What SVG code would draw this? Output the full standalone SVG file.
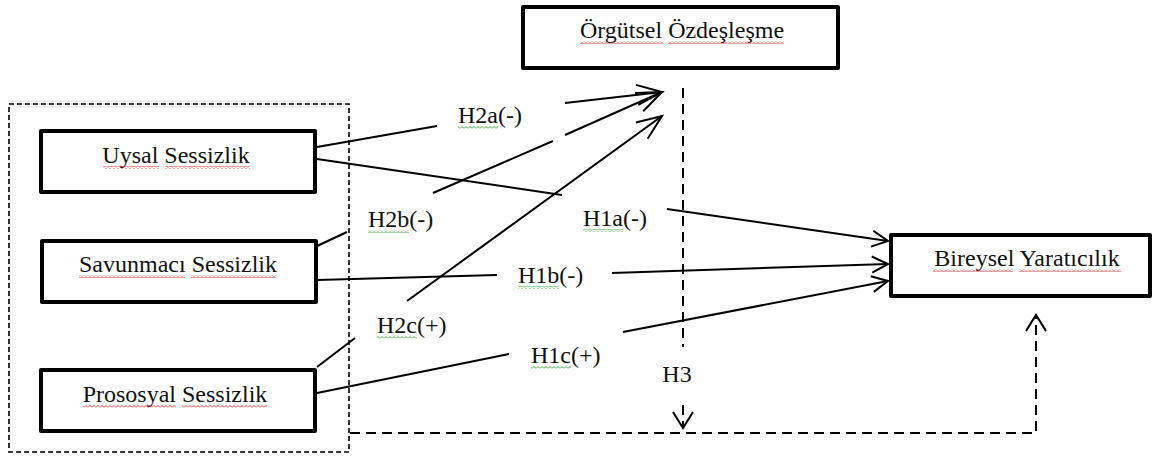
<svg xmlns="http://www.w3.org/2000/svg" width="1162" height="456" viewBox="0 0 1162 456">
<style>
.box{fill:#fff;stroke:#000;stroke-width:4;stroke-linejoin:round}
.t{font-family:"Liberation Serif","Times New Roman",serif;font-size:24px;fill:#111}
.c{text-anchor:middle}
.ln{fill:none;stroke:#000;stroke-width:2}
.dsh{fill:none;stroke:#000;stroke-width:2;stroke-dasharray:10 6}
.outer{fill:none;stroke:#000;stroke-width:1.6;stroke-dasharray:5 3}
.sqr{fill:url(#sqRed)}
.sqg{fill:url(#sqGreen)}
</style>
<defs>
<pattern id="sqRed" width="4" height="3" patternUnits="userSpaceOnUse"><path d="M0,2.5 L2,0.5 L4,2.5" fill="none" stroke="#e02020" stroke-width="0.9"/></pattern>
<pattern id="sqGreen" width="4" height="3" patternUnits="userSpaceOnUse"><path d="M0,2.5 L2,0.5 L4,2.5" fill="none" stroke="#2aa02a" stroke-width="0.9"/></pattern>
<marker id="aTop" markerUnits="userSpaceOnUse" viewBox="-30 -15 35 30" markerWidth="35" markerHeight="30" refX="0" refY="0" orient="auto" overflow="visible"><path d="M-25,-10 L0,0 L-25,10" fill="none" stroke="#000" stroke-width="2"/></marker>
<marker id="aR" markerUnits="userSpaceOnUse" viewBox="-25 -15 30 30" markerWidth="30" markerHeight="30" refX="0" refY="0" orient="auto" overflow="visible"><path d="M-16,-8 L0,0 L-16,8" fill="none" stroke="#000" stroke-width="2"/></marker>
<marker id="aD" markerUnits="userSpaceOnUse" viewBox="-25 -15 30 30" markerWidth="30" markerHeight="30" refX="0" refY="0" orient="auto" overflow="visible"><path d="M-16,-10 L0,0 L-16,10" fill="none" stroke="#000" stroke-width="2" stroke-dasharray="none"/></marker>
</defs>
<rect width="1162" height="456" fill="#fff"/>

<g id="group-silence">
<rect class="outer" x="9" y="104" width="340" height="348"/>
</g>

<g id="connectors">
<path class="ln" d="M317,147 L437,126"/>
<path class="ln" d="M565,103 L662,92" marker-end="url(#aTop)"/>
<path class="ln" d="M317,246 L347,232"/>
<path class="ln" d="M433,193 L553,141"/>
<path class="ln" d="M565,135 L662,92" marker-end="url(#aTop)"/>
<path class="ln" d="M317,367 L355,338"/>
<path class="ln" d="M407,301 L662,116" marker-end="url(#aTop)"/>
<path class="ln" d="M317,159 L562,195"/>
<path class="ln" d="M667,209 L888,241" marker-end="url(#aR)"/>
<path class="ln" d="M317,280 L497,275"/>
<path class="ln" d="M612,273 L888,264" marker-end="url(#aR)"/>
<path class="ln" d="M317,393 L509,354"/>
<path class="ln" d="M623,332 L888,281" marker-end="url(#aR)"/>
<path class="dsh" d="M683,88 L683,347"/>
<path class="dsh" d="M683,405 L683,428" marker-end="url(#aD)"/>
<path class="dsh" d="M350,433 L1036,433 L1036,315" marker-end="url(#aD)"/>
</g>

<g id="labels">
<text class="t" x="458" y="123">H2a(-)</text><rect class="sqg" x="458" y="126" width="40" height="3"/>
<text class="t" x="368" y="227">H2b(-)</text><rect class="sqg" x="368" y="230" width="41" height="3"/>
<text class="t" x="377" y="333">H2c(+)</text><rect class="sqg" x="377" y="336" width="40" height="3"/>
<text class="t" x="583" y="226">H1a(-)</text><rect class="sqg" x="583" y="229" width="40" height="3"/>
<text class="t" x="518" y="283">H1b(-)</text><rect class="sqg" x="518" y="286" width="41" height="3"/>
<text class="t" x="531" y="363">H1c(+)</text><rect class="sqg" x="531" y="366" width="40" height="3"/>
<text class="t c" x="677" y="382">H3</text>
</g>

<g id="node-orgutsel">
<rect class="box" x="523" y="7" width="315" height="61"/>
<text class="t c" x="682" y="38">Örgütsel Özdeşleşme</text>
<rect class="sqr" x="580" y="41" width="83" height="3"/><rect class="sqr" x="668" y="41" width="116" height="3"/>
</g>

<g id="node-uysal">
<rect class="box" x="41" y="131" width="274" height="61"/>
<text class="t c" x="176" y="163">Uysal Sessizlik</text>
<rect class="sqr" x="103" y="166" width="56" height="3"/><rect class="sqr" x="165" y="166" width="85" height="3"/>
</g>

<g id="node-savunmaci">
<rect class="box" x="42" y="241" width="274" height="61"/>
<text class="t c" x="178" y="272">Savunmacı Sessizlik</text>
<rect class="sqr" x="79" y="275" width="106" height="3"/><rect class="sqr" x="191" y="275" width="85" height="3"/>
</g>

<g id="node-prososyal">
<rect class="box" x="41" y="370" width="274" height="61"/>
<text class="t c" x="175" y="402">Prososyal Sessizlik</text>
<rect class="sqr" x="83" y="405" width="93" height="3"/><rect class="sqr" x="182" y="405" width="85" height="3"/>
</g>

<g id="node-bireysel">
<rect class="box" x="891" y="235" width="259" height="61"/>
<text class="t c" x="1027" y="266">Bireysel Yaratıcılık</text>
<rect class="sqr" x="933" y="269" width="80" height="3"/><rect class="sqr" x="1019" y="269" width="102" height="3"/>
</g>
</svg>
